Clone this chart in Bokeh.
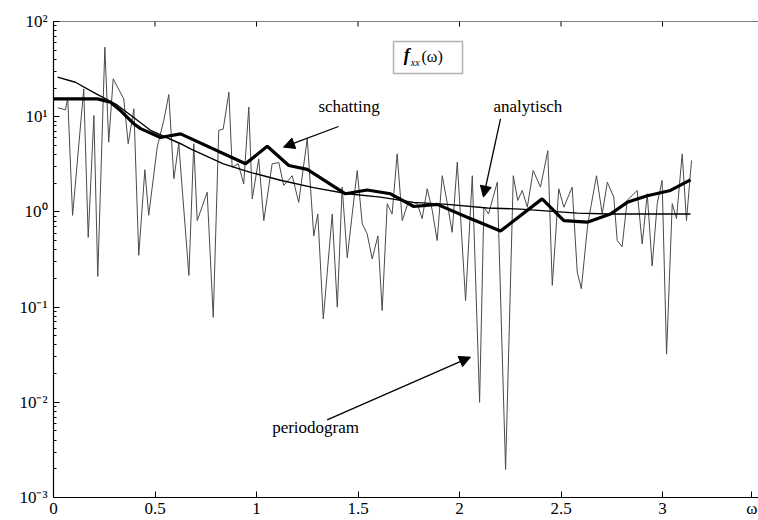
from bokeh.plotting import figure
from bokeh.models import (FixedTicker, Range1d, Label, Arrow, Span,
                          NormalHead, BoxAnnotation)
from bokeh.embed import file_html
from bokeh.resources import INLINE

# ---- data ----
omega_per = [0.021, 0.059, 0.070, 0.094, 0.149, 0.171, 0.199, 0.218, 0.253, 0.272,
             0.294, 0.346, 0.368, 0.396, 0.420, 0.450, 0.469, 0.511, 0.543, 0.568,
             0.593, 0.617, 0.667, 0.691, 0.708, 0.757, 0.787, 0.814, 0.836, 0.864,
             0.880, 0.910, 0.937, 0.962, 0.979, 1.011, 1.036, 1.077, 1.110, 1.134,
             1.176, 1.208, 1.250, 1.282, 1.302, 1.329, 1.373, 1.398, 1.422, 1.447,
             1.496, 1.521, 1.545, 1.570, 1.598, 1.619, 1.644, 1.668, 1.693, 1.718,
             1.742, 1.767, 1.792, 1.816, 1.841, 1.866, 1.890, 1.915, 1.939, 1.964,
             1.989, 2.030, 2.063, 2.099, 2.120, 2.143, 2.186, 2.227, 2.265, 2.287,
             2.309, 2.334, 2.363, 2.399, 2.435, 2.457, 2.489, 2.514, 2.555, 2.580,
             2.600, 2.632, 2.675, 2.703, 2.728, 2.760, 2.777, 2.801, 2.826, 2.875,
             2.900, 2.925, 2.949, 2.974, 2.998, 3.020, 3.048, 3.069, 3.097, 3.118,
             3.143]
f_per = [12.4, 11.8, 15.8, 0.92, 19.6, 0.54, 10.3, 0.21, 53.7, 5.4,
         25.0, 15.4, 5.2, 12.1, 0.35, 2.77, 0.92, 4.8, 9.1, 17.1,
         2.23, 5.2, 0.215, 5.2, 0.81, 1.61, 0.078, 7.2, 7.4, 18.1,
         2.95, 3.2, 1.97, 12.6, 1.37, 3.6, 0.81, 3.2, 3.3, 1.9,
         2.4, 1.26, 5.9, 0.56, 0.95, 0.075, 0.95, 0.10, 1.82, 0.33,
         2.72, 0.75, 0.59, 0.32, 0.56, 0.092, 1.22, 0.95, 4.07, 0.81,
         1.17, 1.26, 1.22, 0.85, 1.75, 1.03, 0.50, 2.4, 1.26, 0.61,
         3.33, 0.117, 2.4, 0.010, 1.12, 0.95, 2.05, 0.00197, 2.4, 1.32,
         1.68, 1.12, 2.72, 1.82, 4.4, 0.169, 1.75, 1.12, 1.82, 0.233,
         0.156, 0.75, 2.4, 0.95, 2.05, 1.43, 0.50, 0.43, 1.32, 1.68,
         0.46, 1.55, 0.27, 1.22, 2.14, 0.032, 1.22, 0.85, 4.07, 0.81,
         3.47]

omega_ana = [0.02, 0.108, 0.197, 0.315, 0.478, 0.626, 0.675, 0.837, 0.970, 1.118,
             1.281, 1.448, 1.611, 1.773, 1.941, 2.138, 2.300, 2.581, 2.744, 3.138]
f_ana = [26.0, 23.0, 18.0, 13.2, 7.2, 5.2, 4.6, 3.2, 2.6, 2.15,
         1.8, 1.55, 1.43, 1.26, 1.2, 1.1, 1.07, 0.97, 0.95, 0.95]

omega_sch = [0.0, 0.217, 0.281, 0.330, 0.394, 0.429, 0.527, 0.626, 0.946, 1.053,
             1.159, 1.250, 1.438, 1.545, 1.660, 1.775, 1.890, 2.038, 2.202, 2.407,
             2.514, 2.629, 2.744, 2.826, 2.925, 3.039, 3.138]
f_sch = [15.4, 15.4, 14.2, 11.6, 8.5, 7.5, 6.05, 6.6, 3.2, 4.9,
         3.07, 2.8, 1.55, 1.7, 1.55, 1.14, 1.2, 0.88, 0.63, 1.37,
         0.81, 0.78, 0.95, 1.26, 1.48, 1.68, 2.17]

x_ticks = [0, 0.5, 1, 1.5, 2, 2.5, 3]
x_tick_labels = ["0", "0.5", "1", "1.5", "2", "2.5", "3"]
x_axis_name_pos = 3.44
x_axis_name = "\u03c9"
y_ticks = [1e-3, 1e-2, 1e-1, 1, 10, 100]
y_tick_labels = ["10\u207b\u00b3", "10\u207b\u00b2", "10\u207b\u00b9", "10\u2070", "10\u00b9", "10\u00b2"]
y_minor = [m * d for d in [1e-3, 1e-2, 1e-1, 1, 10] for m in range(2, 10)]

FONT = "Liberation Serif"
Y_TOP = 1e2

p = figure(frame_width=705, frame_height=476, output_backend="svg",
           toolbar_location=None, y_axis_type="log",
           x_range=Range1d(0, 705 / 203.0), y_range=Range1d(1e-3, Y_TOP),
           min_border_left=53, min_border_right=0, min_border_top=21,
           min_border_bottom=23, background_fill_color="white",
           border_fill_color="white")
p.outline_line_color = None
p.grid.visible = False

# periodogram, analytic, estimate
p.line(omega_per, f_per, line_color="#4a4a4a", line_width=1)
p.line(omega_ana, f_ana, line_color="black", line_width=1.4)
p.line(omega_sch, f_sch, line_color="black", line_width=3.2)

# axes
xa = p.xaxis[0]
xa.ticker = FixedTicker(ticks=x_ticks + [x_axis_name_pos], minor_ticks=[])
overrides = {t: l for t, l in zip(x_ticks, x_tick_labels)}
overrides[x_axis_name_pos] = x_axis_name
xa.major_label_overrides = overrides
ya = p.yaxis[0]
ya.ticker = FixedTicker(ticks=y_ticks, minor_ticks=y_minor)
ya.major_label_overrides = {t: l for t, l in zip(y_ticks, y_tick_labels)}
for ax in (xa, ya):
    ax.major_tick_in = 6
    ax.major_tick_out = 0
    ax.minor_tick_in = 3
    ax.minor_tick_out = 0
    ax.axis_line_color = "black"
    ax.axis_line_width = 1.2
    ax.major_label_text_font = FONT
    ax.major_label_text_font_size = "17px"
    ax.major_label_text_color = "black"
xa.major_label_standoff = 1
ya.major_label_standoff = 6

# top border with inward ticks
p.add_layout(Span(location=Y_TOP, dimension="width", line_color="black",
                  line_width=1.2))
p.segment(x0=x_ticks, y0=[Y_TOP] * len(x_ticks), x1=x_ticks,
          y1=[Y_TOP * 10 ** (-5 / 95.2)] * len(x_ticks),
          line_color="black", line_width=1)

# annotations
box = BoxAnnotation(left=1.675, right=2.015, bottom=28.5, top=61.6,
                    fill_color="white", fill_alpha=1.0, line_color="black",
                    line_width=1.5)
p.add_layout(box)
p.add_layout(Label(x=1.725, y=35.3, text="f", text_font=FONT,
                   text_font_style="bold italic", text_font_size="18px",
                   text_color="black"))
p.add_layout(Label(x=1.760, y=32.5, text="xx", text_font=FONT,
                   text_font_style="italic", text_font_size="10px",
                   text_color="black"))
p.add_layout(Label(x=1.813, y=35.3, text="(\u03c9)", text_font=FONT,
                   text_font_size="16px", text_color="black"))

p.add_layout(Label(x=1.305, y=10.05, text="schatting", text_font=FONT,
                   text_font_size="17px", text_color="black"))
p.add_layout(Label(x=2.167, y=10.05, text="analytisch", text_font=FONT,
                   text_font_size="17px", text_color="black"))
p.add_layout(Label(x=1.077, y=0.00427, text="periodogram", text_font=FONT,
                   text_font_size="17px", text_color="black"))

for xs, ys, xe, ye in [(1.404, 7.89, 1.133, 4.79),
                       (2.202, 9.5, 2.118, 1.43),
                       (1.348, 0.00655, 2.054, 0.0298)]:
    p.add_layout(Arrow(end=NormalHead(size=11, fill_color="black",
                                      line_color="black"),
                       x_start=xs, y_start=ys, x_end=xe, y_end=ye,
                       line_width=1.3, line_color="black"))

open("out.html", "w").write(file_html(p, INLINE))
